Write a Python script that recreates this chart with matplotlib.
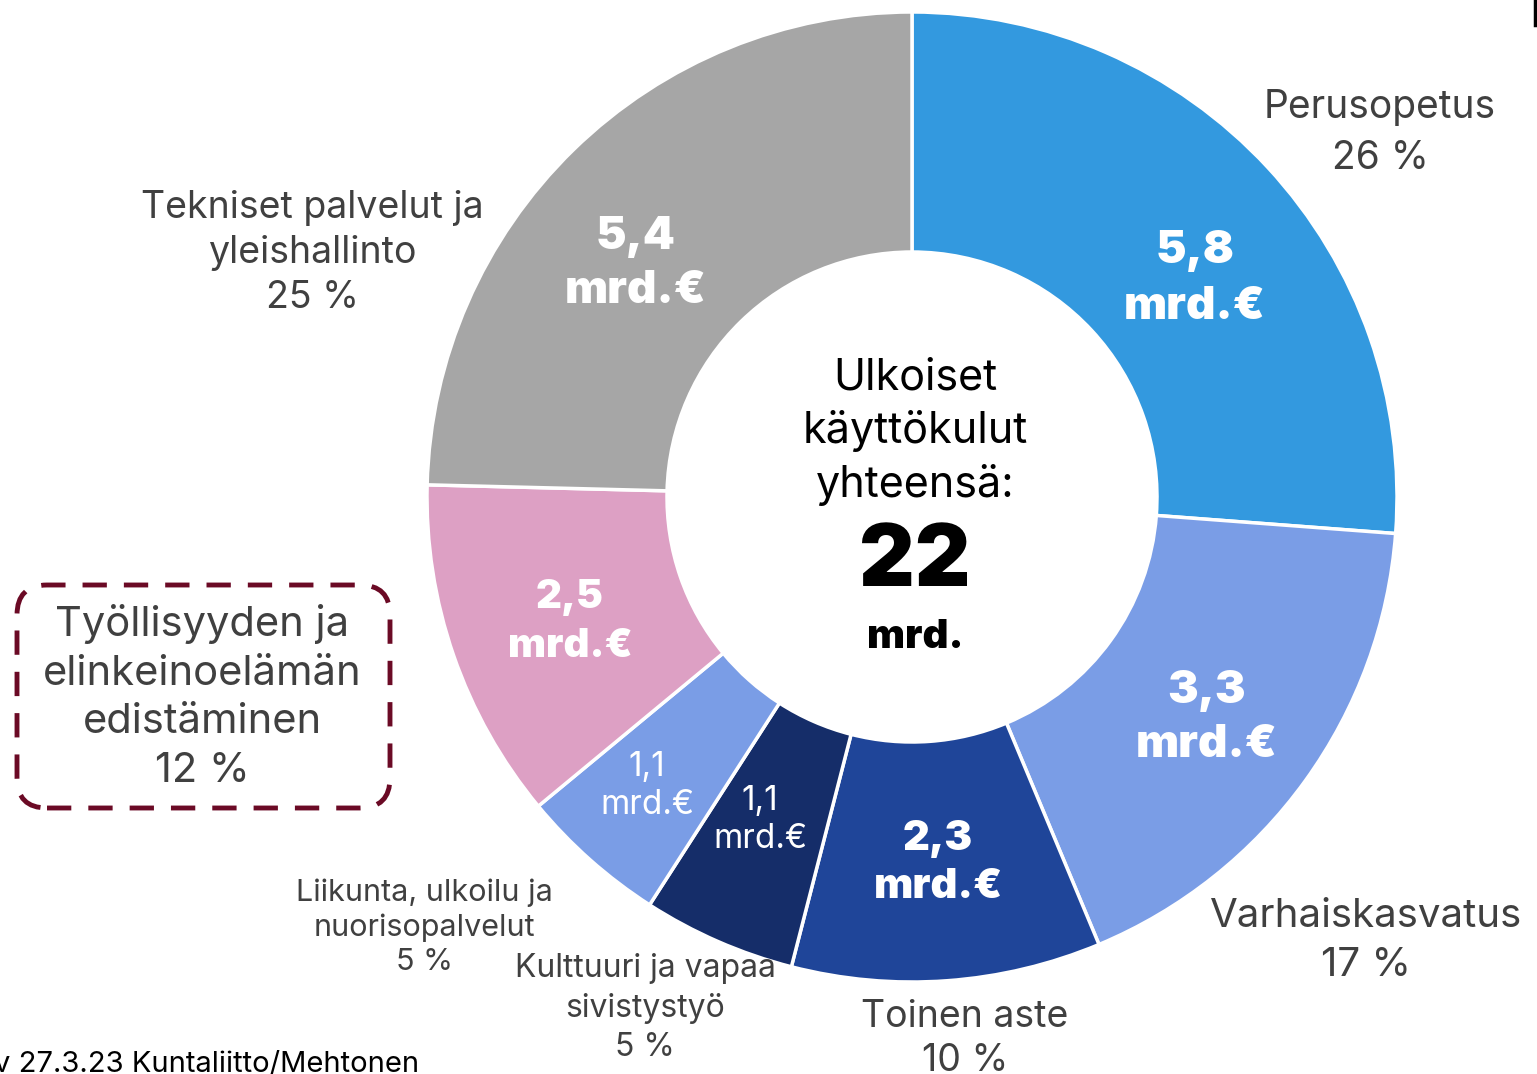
import matplotlib.pyplot as plt
from matplotlib.patches import FancyBboxPatch

# osuudet (arvioitu kuvion kulmista) ja tekstit
names = ["Perusopetus", "Varhaiskasvatus", "Toinen aste",
         "Kulttuuri ja vapaa\nsivistystyö", "Liikunta, ulkoilu ja\nnuorisopalvelut",
         "Työllisyyden ja\nelinkeinoelämän\nedistäminen",
         "Tekniset palvelut ja\nyleishallinto"]
shares = [26.2, 17.5, 10.3, 5.1, 4.9, 11.4, 24.6]
pct_labels = ["26 %", "17 %", "10 %", "5 %", "5 %", "12 %", "25 %"]
amounts = ["5,8", "3,3", "2,3", "1,1", "1,1", "2,5", "5,4"]
colors = ["#3399df", "#7a9de6", "#1f4599", "#152d69", "#7a9de6", "#dda0c4", "#a6a6a6"]
total = "22"

W, H = 1537, 1074
plt.rcParams['font.family'] = ['Inter', 'DejaVu Sans']
fig = plt.figure(figsize=(W / 100, H / 100), dpi=100)
ax = fig.add_axes([0, 0, 1, 1])

def Y(y):
    return H - y

cx, cy = 912, Y(497)
ax.pie(shares, colors=colors, startangle=90, counterclock=False,
       center=(cx, cy), radius=485, frame=True,
       wedgeprops=dict(width=240, edgecolor='white', linewidth=2.5))
ax.set_xlim(0, W)
ax.set_ylim(0, H)
ax.set_aspect('equal')
ax.axis('off')

grey = '#404040'
# kategoriatekstit: (x, y, koko, riviväli)
name_pos = [(1380, 133, 28, 1.45), (1366, 941, 29, 1.40), (965, 1039, 27, 1.26),
            (645, 1008, 23, 1.34), (424, 927, 22, 1.29), (202, 697, 30, 1.35),
            (312, 253, 27, 1.32)]
for i, (x, y, s, ls) in enumerate(name_pos):
    ax.text(x, Y(y), names[i] + "\n" + pct_labels[i], ha='center', va='center',
            fontsize=s, color=grey, linespacing=ls)

# arvot renkaan sisällä
val_pos = [(1195, 279, 33, 'black', 1.40), (1207, 718, 33, 'black', 1.38),
           (938, 863, 30, 'black', 1.35), (760, 820, 24, 'normal', 1.25),
           (647, 786, 24, 'normal', 1.25), (570, 622, 29, 'black', 1.40),
           (636, 264, 33, 'black', 1.38)]
for i, (x, y, s, w, ls) in enumerate(val_pos):
    ax.text(x, Y(y), amounts[i] + "\nmrd.€", ha='center', va='center',
            fontsize=s, color='white', fontweight=w, linespacing=ls)

# keskiteksti
ax.text(915, Y(432), "Ulkoiset\nkäyttökulut\nyhteensä:", ha='center', va='center',
        fontsize=31, color='black', linespacing=1.36)
ax.text(915, Y(563), total, ha='center', va='center', fontsize=62,
        fontweight='black', color='black')
ax.text(915, Y(637), "mrd.", ha='center', va='center', fontsize=29,
        fontweight='black', color='black')

# katkoviivakehys
box = FancyBboxPatch((17, Y(808)), 373, 223, boxstyle="round,pad=0,rounding_size=30",
                     fill=False, edgecolor='#6b0a25', linewidth=3.5,
                     linestyle=(0, (5, 3.5)))
ax.add_patch(box)

ax.text(-6, Y(1072), "v 27.3.23 Kuntaliitto/Mehtonen", ha='left', va='baseline',
        fontsize=21, color='black')
ax.plot([1535, 1535], [Y(0), Y(25)], color='black', lw=2.5)

fig.savefig("out.png", dpi=100)
